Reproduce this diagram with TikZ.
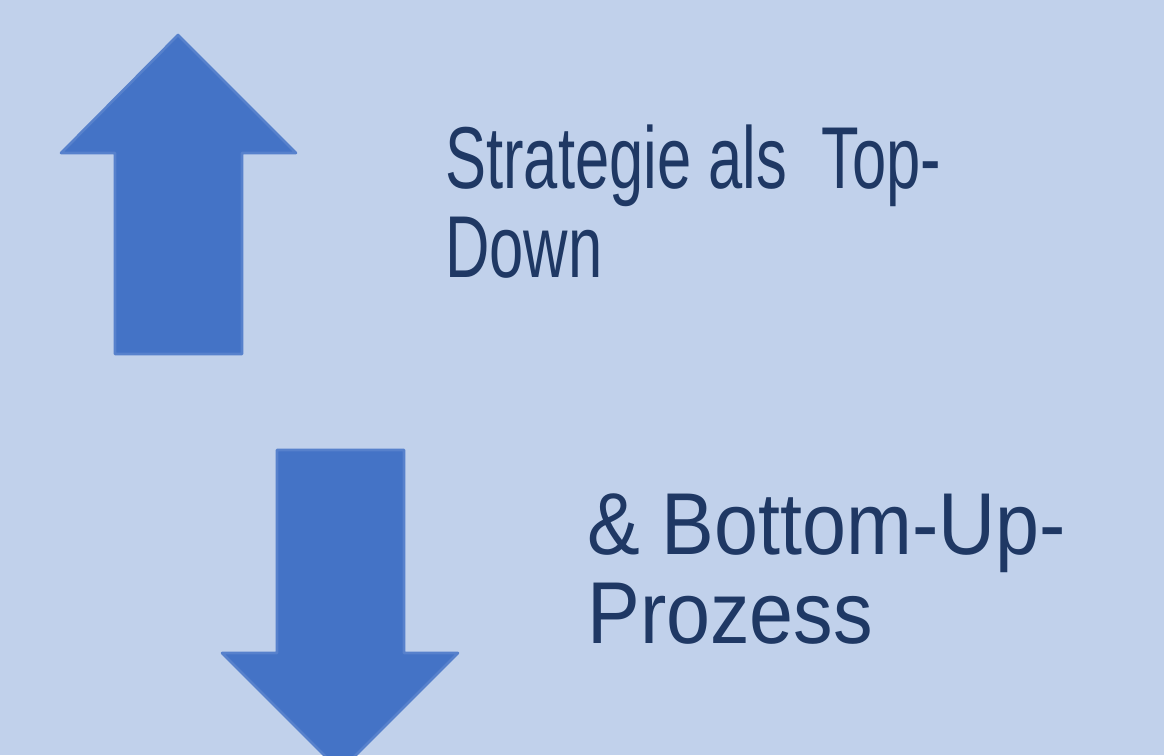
\documentclass[tikz,border=0pt]{standalone}
\usepackage{fontspec}
\usepackage{xcolor}
\usepackage{tikz}
\newfontfamily\topfont[FakeStretch=0.70]{Liberation Sans}
\newfontfamily\bottomfont[FakeStretch=0.90]{Liberation Sans}
\definecolor{slidebg}{HTML}{C1D1EB}
\definecolor{arrowblue}{HTML}{4473C6}
\definecolor{textblue}{HTML}{1F3864}

\begin{document}
\begin{tikzpicture}[x=0.02cm, y=-0.02cm,
		label text/.style={anchor=base west, inner sep=0pt, align=left, text=textblue, font=#1\fontsize{50}{50.1}\selectfont},
		soft edge/.style={draw=arrowblue!85!slidebg, line width=1.5pt, line join=round}]
					\fill[slidebg] (0, 0) rectangle (1164, 755);
					\useasboundingbox (0, 0) rectangle (1164, 755);
					\begin{scope}
					\clip (0, 0) rectangle (1164, 755);
					\filldraw[soft edge, fill=arrowblue] (178, 35) -- (296, 153) -- (242, 153) -- (242, 354) -- (115, 354) -- (115, 153) -- (61, 153) -- cycle;
					\filldraw[soft edge, fill=arrowblue] (277, 450) -- (404, 450) -- (404, 653) -- (458, 653) -- (340, 771) -- (222, 653) -- (277, 653) -- cycle;
					\end{scope}
					\node[label text=\topfont] (strategie) at (445, 277) {Strategie als\ \ Top-\\Down};
					\node[label text=\bottomfont] (prozess) at (587, 643) {\& Bottom-Up-\\Prozess};
				\end{tikzpicture}
\end{document}
